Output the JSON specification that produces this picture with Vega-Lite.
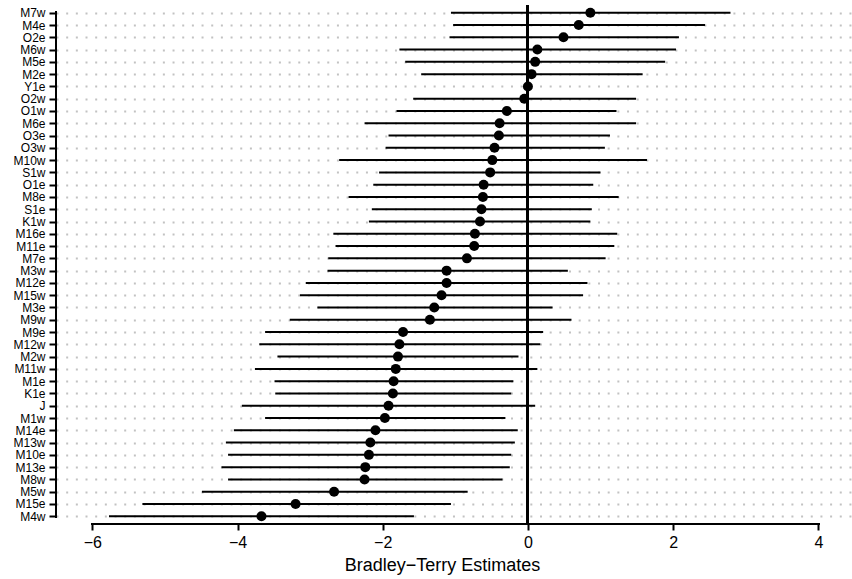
{
  "$schema": "https://vega.github.io/schema/vega-lite/v6.json",
  "autosize": {"type": "none"},
  "padding": {"left": 56, "top": 5, "right": 1, "bottom": 55},
  "width": 795,
  "height": 519,
  "background": "white",
  "config": {
    "view": {"stroke": null},
    "font": "Liberation Sans"
  },
  "data": {
    "values": [
      {"name": "M7w", "est": 0.86, "lo": -1.06, "hi": 2.79},
      {"name": "M4e", "est": 0.70, "lo": -1.03, "hi": 2.44},
      {"name": "O2e", "est": 0.49, "lo": -1.08, "hi": 2.08},
      {"name": "M6w", "est": 0.13, "lo": -1.77, "hi": 2.04},
      {"name": "M5e", "est": 0.10, "lo": -1.69, "hi": 1.89},
      {"name": "M2e", "est": 0.05, "lo": -1.47, "hi": 1.58},
      {"name": "Y1e", "est": 0.0, "lo": null, "hi": null},
      {"name": "O2w", "est": -0.05, "lo": -1.58, "hi": 1.49},
      {"name": "O1w", "est": -0.29, "lo": -1.81, "hi": 1.22},
      {"name": "M6e", "est": -0.39, "lo": -2.25, "hi": 1.49},
      {"name": "O3e", "est": -0.40, "lo": -1.92, "hi": 1.13},
      {"name": "O3w", "est": -0.46, "lo": -1.96, "hi": 1.06},
      {"name": "M10w", "est": -0.49, "lo": -2.60, "hi": 1.64},
      {"name": "S1w", "est": -0.52, "lo": -2.05, "hi": 1.00},
      {"name": "O1e", "est": -0.61, "lo": -2.13, "hi": 0.90},
      {"name": "M8e", "est": -0.62, "lo": -2.47, "hi": 1.25},
      {"name": "S1e", "est": -0.64, "lo": -2.15, "hi": 0.88},
      {"name": "K1w", "est": -0.66, "lo": -2.19, "hi": 0.86},
      {"name": "M16e", "est": -0.73, "lo": -2.68, "hi": 1.23},
      {"name": "M11e", "est": -0.74, "lo": -2.65, "hi": 1.19},
      {"name": "M7e", "est": -0.84, "lo": -2.75, "hi": 1.07},
      {"name": "M3w", "est": -1.12, "lo": -2.76, "hi": 0.55},
      {"name": "M12e", "est": -1.12, "lo": -3.06, "hi": 0.82},
      {"name": "M15w", "est": -1.19, "lo": -3.14, "hi": 0.76},
      {"name": "M3e", "est": -1.29, "lo": -2.90, "hi": 0.34},
      {"name": "M9w", "est": -1.35, "lo": -3.28, "hi": 0.60},
      {"name": "M9e", "est": -1.72, "lo": -3.62, "hi": 0.21},
      {"name": "M12w", "est": -1.77, "lo": -3.70, "hi": 0.17},
      {"name": "M2w", "est": -1.79, "lo": -3.45, "hi": -0.13},
      {"name": "M11w", "est": -1.82, "lo": -3.76, "hi": 0.13},
      {"name": "M1e", "est": -1.85, "lo": -3.49, "hi": -0.20},
      {"name": "K1e", "est": -1.86, "lo": -3.48, "hi": -0.23},
      {"name": "J", "est": -1.92, "lo": -3.94, "hi": 0.10},
      {"name": "M1w", "est": -1.97, "lo": -3.62, "hi": -0.31},
      {"name": "M14e", "est": -2.10, "lo": -4.05, "hi": -0.14},
      {"name": "M13w", "est": -2.17, "lo": -4.16, "hi": -0.18},
      {"name": "M10e", "est": -2.19, "lo": -4.13, "hi": -0.23},
      {"name": "M13e", "est": -2.24, "lo": -4.22, "hi": -0.25},
      {"name": "M8w", "est": -2.25, "lo": -4.13, "hi": -0.35},
      {"name": "M5w", "est": -2.67, "lo": -4.49, "hi": -0.83},
      {"name": "M15e", "est": -3.20, "lo": -5.31, "hi": -1.06},
      {"name": "M4w", "est": -3.67, "lo": -5.77, "hi": -1.57}
    ]
  },
  "resolve": {"scale": {"y": "independent"}},
  "layer": [
    {
      "encoding": {
        "y": {
          "field": "name",
          "type": "nominal",
          "sort": ["M7w", "M4e", "O2e", "M6w", "M5e", "M2e", "Y1e", "O2w", "O1w", "M6e", "O3e", "O3w", "M10w", "S1w", "O1e", "M8e", "S1e", "K1w", "M16e", "M11e", "M7e", "M3w", "M12e", "M15w", "M3e", "M9w", "M9e", "M12w", "M2w", "M11w", "M1e", "K1e", "J", "M1w", "M14e", "M13w", "M10e", "M13e", "M8w", "M5w", "M15e", "M4w"],
          "scale": {"type": "point", "padding": 0.63},
          "axis": {
            "title": null,
            "domain": false,
            "ticks": true,
            "tickSize": 7,
            "tickWidth": 2,
            "tickColor": "black",
            "labelFontSize": 12,
            "labelColor": "black",
            "labelPadding": 4,
            "labelFont": "Liberation Sans",
            "grid": true,
            "gridColor": "#c2c2c2",
            "gridWidth": 2,
            "gridDash": [2, 7.67],
            "gridDashOffset": 0
          }
        }
      },
      "layer": [
        {
          "mark": {"type": "rule", "color": "black", "strokeWidth": 2},
          "encoding": {
            "x": {"datum": 0, "type": "quantitative"},
            "y": null
          }
        },
        {
          "transform": [{"filter": "isValid(datum.lo)"}],
          "mark": {"type": "rule", "color": "black", "strokeWidth": 2},
          "encoding": {
            "x": {
              "field": "lo",
              "type": "quantitative",
              "scale": {"domain": [-6.5, 4.45], "nice": false, "zero": false},
              "axis": {
                "domain": false,
                "grid": false,
                "values": [-6, -4, -2, 0, 2, 4],
                "format": "d",
                "tickSize": 6,
                "tickWidth": 2,
                "tickColor": "black",
                "labelFontSize": 16,
                "labelColor": "black",
                "labelPadding": 4,
                "labelFont": "Liberation Sans",
                "title": "Bradley−Terry Estimates",
                "titleFontSize": 18,
                "titleFontWeight": "normal",
                "titleColor": "black",
                "titleFont": "Liberation Sans",
                "titlePadding": 6,
                "titleX": 386
              }
            },
            "x2": {"field": "hi"}
          }
        },
        {
          "mark": {"type": "circle", "color": "black", "opacity": 1, "size": 100},
          "encoding": {
            "x": {"field": "est", "type": "quantitative"}
          }
        },
        {
          "mark": {"type": "rule", "color": "black", "strokeWidth": 2, "strokeCap": "square"},
          "encoding": {
            "x": {"datum": -6.5, "type": "quantitative"},
            "y": {"datum": "M7w", "type": "nominal"},
            "y2": {"datum": "M4w"}
          }
        }
      ]
    },
    {
      "mark": {"type": "rule", "color": "black", "strokeWidth": 2, "strokeCap": "square"},
      "encoding": {
        "x": {"datum": -6, "type": "quantitative"},
        "x2": {"datum": 4},
        "y": {"datum": 0, "type": "quantitative", "scale": {"domain": [0, 1]}, "axis": null}
      }
    }
  ]
}
